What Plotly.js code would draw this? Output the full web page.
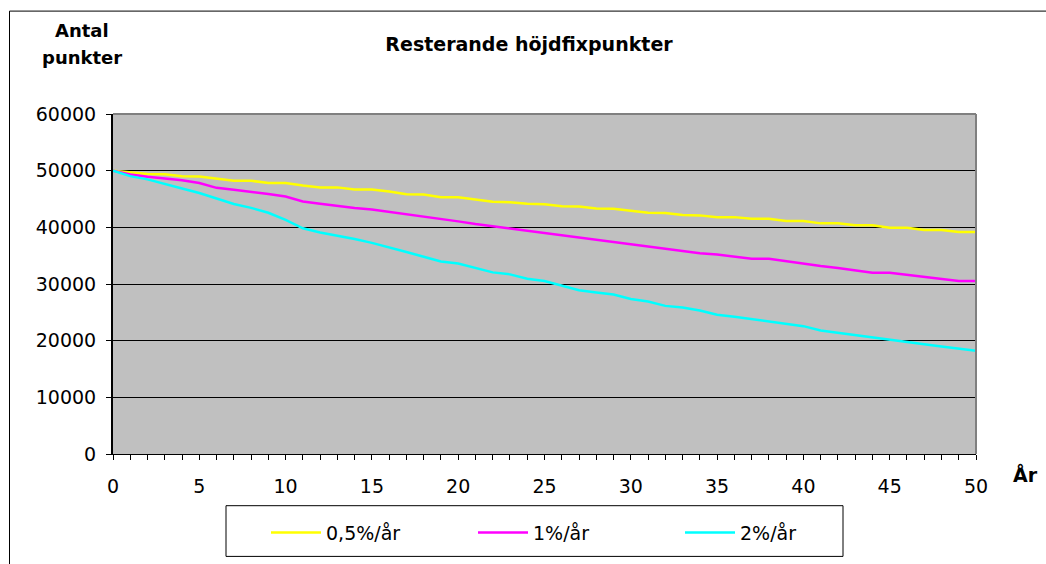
<!DOCTYPE html>
<html>
<head>
<meta charset="utf-8">
<script src="https://cdn.plot.ly/plotly-3.0.1.min.js"></script>
<style>
  html, body { margin: 0; padding: 0; background: #ffffff; }
  #chart { width: 1046px; height: 564px; }
</style>
</head>
<body>
<div id="chart"></div>
<script>
// ---- data ----
var years = [0,1,2,3,4,5,6,7,8,9,10,11,12,13,14,15,16,17,18,19,20,21,22,23,24,25,26,27,28,29,30,31,32,33,34,35,36,37,38,39,40,41,42,43,44,45,46,47,48,49,50];

var seriesNames = ["0,5%/år", "1%/år", "2%/år"];

var rate05 = [50000,49700,49420,49360,49000,48950,48600,48220,48220,47840,47840,47370,47050,47050,46670,46670,46320,45850,45790,45320,45320,44910,44500,44440,44150,44090,43740,43680,43330,43270,42920,42570,42510,42160,42110,41800,41800,41520,41520,41110,41110,40700,40700,40350,40350,39940,39940,39530,39530,39180,39180];

var rate1 = [50000,49310,48910,48630,48290,47830,46970,46630,46290,45890,45430,44570,44170,43770,43430,43140,42740,42280,41900,41460,41050,40580,40180,39770,39360,38950,38540,38130,37780,37430,37020,36610,36260,35850,35440,35200,34800,34440,34440,33980,33570,33160,32810,32400,31990,31990,31640,31290,30940,30530,30530];

var rate2 = [50000,49030,48460,47710,46860,46060,45030,44110,43430,42570,41310,39830,39090,38570,37940,37260,36510,35640,34800,33980,33630,32870,32050,31700,30940,30530,29710,28890,28480,28130,27370,26900,26140,25850,25320,24570,24220,23810,23330,22980,22560,21790,21370,20950,20600,20120,19700,19350,18990,18630,18210];

var chartTitle = "Resterande höjdfixpunkter";
var yTitleLines = ["Antal", "punkter"];
var xTitle = "År";

// ---- styling ----
var colors = ["#FFFF00", "#FF00FF", "#00FFFF"];
var FONT = "DejaVu Sans, Verdana, sans-serif";

// plot area in pixels
var L = 113, R = 976, T = 114, B = 456, W = 1046, H = 564;
function px(x) { return (x - L) / (R - L); }
function py(y) { return (B - y) / (B - T); }

var seriesData = [rate05, rate1, rate2];
var traces = seriesData.map(function (vals, i) {
  return {
    x: years,
    y: vals,
    type: "scatter",
    mode: "lines",
    name: seriesNames[i],
    line: { color: colors[i], width: 2.5 },
    hoverinfo: "x+y+name"
  };
});

var layout = {
  width: W,
  height: H,
  margin: { l: L, r: W - R, t: T, b: H - B, pad: 0 },
  paper_bgcolor: "#ffffff",
  plot_bgcolor: "#C0C0C0",
  font: { family: FONT, size: 19, color: "#000000" },
  title: {
    text: "<b>" + chartTitle + "</b>",
    font: { family: FONT, size: 19, color: "#000000" },
    xref: "container", yref: "container",
    x: 529 / W, xanchor: "center",
    y: 1 - 44 / H, yanchor: "middle"
  },
  xaxis: {
    range: [0, 50],
    dtick: 5,
    tick0: 0,
    ticks: "outside",
    ticklen: 5,
    tickwidth: 1,
    tickcolor: "#000000",
    showgrid: false,
    zeroline: false,
    showline: true,
    linecolor: "#000000",
    linewidth: 1,
    ticklabelstandoff: 10,
    tickfont: { family: FONT, size: 19, color: "#000000" },
    minor: { dtick: 1, tick0: 0, ticks: "outside", ticklen: 5, tickcolor: "#000000", tickwidth: 1, showgrid: false },
    fixedrange: true
  },
  yaxis: {
    range: [0, 60000],
    dtick: 10000,
    tick0: 0,
    ticks: "outside",
    ticklen: 5,
    tickwidth: 1,
    tickcolor: "#000000",
    showgrid: true,
    gridcolor: "#000000",
    gridwidth: 1,
    zeroline: false,
    showline: true,
    linecolor: "#000000",
    linewidth: 2,
    ticklabelstandoff: 6,
    tickformat: "d",
    tickfont: { family: FONT, size: 19, color: "#000000" },
    fixedrange: true
  },
  showlegend: true,
  legend: {
    orientation: "h",
    x: px(266), xanchor: "left",
    y: py(535), yanchor: "middle",
    bgcolor: "rgba(0,0,0,0)",
    borderwidth: 0,
    font: { family: FONT, size: 19, color: "#000000" },
    entrywidth: 142,
    entrywidthmode: "pixels",
    itemwidth: 50
  },
  shapes: [
    // top edge of plot area (gray)
    { type: "line", xref: "paper", yref: "paper", x0: 0, x1: 1, y0: 1, y1: 1, line: { color: "#808080", width: 2 } },
    // right edge of plot area (gray)
    { type: "line", xref: "paper", yref: "paper", x0: 1, x1: 1, y0: 0, y1: 1, line: { color: "#808080", width: 2 } },
    // legend box
    { type: "rect", xref: "paper", yref: "paper", x0: px(226), x1: px(843), y0: py(508), y1: py(559), line: { color: "#000000", width: 1 }, fillcolor: "#ffffff", layer: "below" },
    // outer chart frame (left + top visible)
    { type: "line", xref: "paper", yref: "paper", x0: px(9.5), x1: px(9.5), y0: py(10.5), y1: py(700), line: { color: "#000000", width: 1 } },
    { type: "line", xref: "paper", yref: "paper", x0: px(9.5), x1: px(1200), y0: py(10.5), y1: py(10.5), line: { color: "#000000", width: 1 } }
  ],
  annotations: [
    { text: "<b>" + yTitleLines[0] + "</b>", xref: "paper", yref: "paper", x: px(82), y: py(30), xanchor: "center", yanchor: "middle", showarrow: false, font: { family: FONT, size: 18, color: "#000000" } },
    { text: "<b>" + yTitleLines[1] + "</b>", xref: "paper", yref: "paper", x: px(82), y: py(57), xanchor: "center", yanchor: "middle", showarrow: false, font: { family: FONT, size: 18, color: "#000000" } },
    { text: "<b>" + xTitle + "</b>", xref: "paper", yref: "paper", x: px(1025), y: py(477), xanchor: "center", yanchor: "middle", showarrow: false, font: { family: FONT, size: 19, color: "#000000" } }
  ]
};

Plotly.newPlot("chart", traces, layout, { displayModeBar: false, staticPlot: true });
</script>
</body>
</html>
